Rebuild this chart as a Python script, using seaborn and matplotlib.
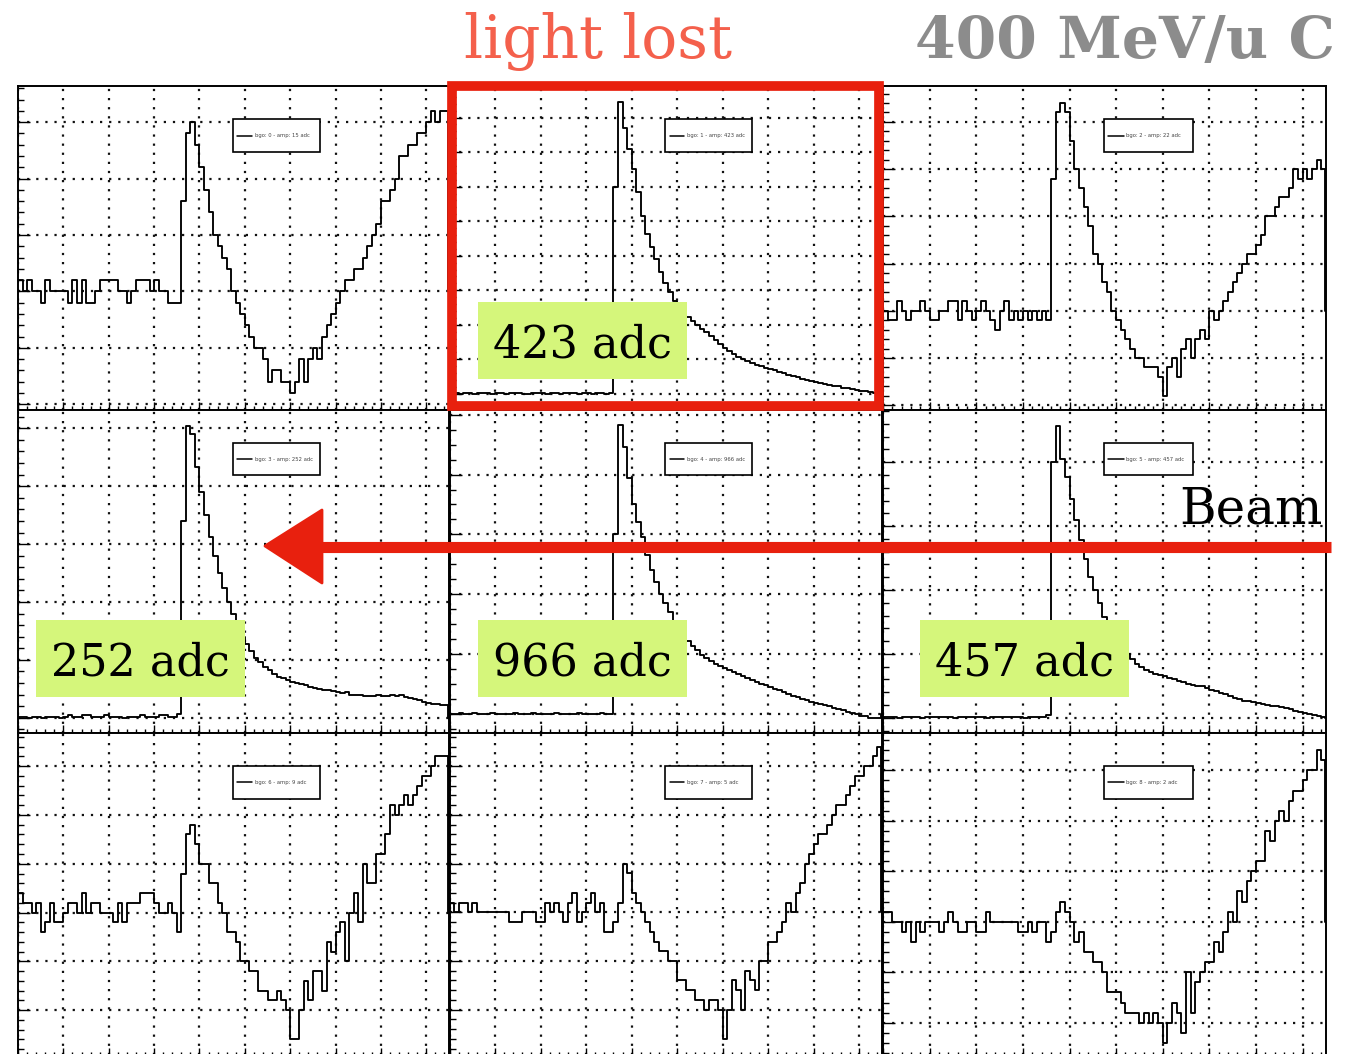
import numpy as np
import pandas as pd
import matplotlib
matplotlib.use("Agg")
import matplotlib.pyplot as plt
import seaborn as sns
from matplotlib.patches import Rectangle, Polygon
from matplotlib.lines import Line2D
from matplotlib.ticker import MultipleLocator

# ---------------------------------------------------------------------------
# Digitised BGO waveforms (ADC counts, pedestal subtracted), one value per sample
# ---------------------------------------------------------------------------
N_SAMPLES = 95
BGO_ID = [0, 1, 2, 3, 4, 5, 6, 7, 8]
AMP_ADC = [15, 423, 22, 252, 966, 457, 9, 5, 2]

WAVE_0 = [1, 0, 1, 0, 0, -1, 1, 0, 0, 0, 0, -1, 1, -1, 1, -1, -1, 0, 1, 1,
          1, 1, 0, 0, -1, 0, 1, 1, 1, 0, 1, 0, 0, -1, -1, -1,
          8, 14, 15, 13, 11, 9, 7, 5, 4, 3, 2, 0, -1, -2, -3, -4, -5, -5, -6, -8,
          -7, -7, -8, -8, -9, -8, -6, -8, -6, -5, -6, -4, -3, -2, -1, 0, 1, 1, 2, 2,
          3, 4, 5, 6, 8, 8, 9, 10, 12, 12, 13, 13, 14, 14, 15, 16, 15, 16, 16]

WAVE_1 = [1, 1, 0, 1, 1, 0, 1, 1, 1, 0, 1, 1, 0, 1, 1, 1, 0, 0, 1, 1,
          1, 0, 1, 1, 0, 1, 1, 1, 0, 1, 1, 0, 1, 1, 0, 1,
          300, 423, 385, 355, 325, 292, 258, 232, 212, 195, 177, 160, 148, 135, 127,
          120, 112, 106, 100, 94, 90, 84, 78, 72, 67, 62, 58, 54, 51, 48,
          45, 42, 40, 38, 36, 34, 32, 30, 28, 26, 24, 22, 20, 19, 17,
          16, 14, 13, 12, 11, 9, 8, 7, 6, 5, 4, 3, 2, 1]

WAVE_2 = [0, -1, -1, 1, 0, -1, 0, 0, 1, 0, -1, -1, 0, 0, 1, 1, -1, 1, 0, -1,
          0, 1, 0, -1, -2, 0, 1, -1, 0, -1, 0, -1, 0, -1, 0, -1,
          14, 21, 22, 21, 18, 15, 13, 11, 9, 6, 5, 3, 2, 0, -1, -2, -3, -4, -5, -5,
          -6, -6, -6, -7, -9, -6, -5, -7, -4, -3, -5, -3, -2, -3, 0, -1, 0, 1, 2, 3,
          4, 5, 6, 6, 7, 8, 10, 10, 11, 12, 12, 13, 15, 14, 15, 14, 15, 16, 15]

WAVE_3 = [1, 1, 0, 1, 1, 0, 1, 1, 1, 0, 1, 2, 1, 1, 2, 2, 1, 1, 1, 2,
          1, 1, 1, 0, 1, 1, 1, 2, 1, 1, 1, 2, 2, 1, 1, 3,
          170, 252, 245, 217, 195, 175, 156, 140, 125, 112, 100, 90, 78, 70, 64,
          58, 52, 48, 44, 41, 38, 35, 34, 33, 31, 30, 29, 28, 27, 26,
          25, 24, 24, 23, 22, 21, 22, 20, 20, 20, 19, 19, 19, 20, 19,
          19, 20, 19, 20, 18, 17, 16, 15, 14, 13, 12, 12, 11, 11]

WAVE_4 = [0, 0, 1, 0, 0, 1, 0, 0, 0, 1, 0, 0, 0, 0, 1, 0, 0, 0, 1, 0,
          0, 0, 0, 1, 0, 0, 0, 0, 1, 0, 0, 0, 0, 1, 0, 0,
          600, 966, 893, 790, 700, 640, 590, 530, 480, 440, 400, 370, 340, 310, 285,
          262, 245, 228, 212, 198, 186, 176, 168, 160, 153, 146, 139, 132, 126, 120,
          113, 107, 101, 95, 89, 83, 78, 72, 66, 60, 55, 50, 45,
          41, 36, 33, 28, 25, 20, 16, 11, 7, 3, -2, -6, -9, -13, -15, -15]

WAVE_5 = [1, 1, 1, 0, 1, 1, 1, 1, 0, 1, 1, 1, 1, 1, 1, 0, 1, 1, 1, 1,
          1, 1, 0, 1, 1, 1, 1, 1, 1, 1, 0, 1, 1, 1, 1, 5,
          400, 457, 405, 377, 343, 309, 278, 249, 220, 200, 179, 158, 142, 132, 116,
          108, 100, 92, 84, 79, 75, 71, 69, 67, 65, 63, 61, 58, 56, 53,
          52, 50, 49, 47, 44, 42, 39, 37, 34, 31, 29, 27, 26, 24, 23,
          22, 20, 19, 18, 17, 15, 13, 11, 9, 8, 6, 4, 3, 1]

WAVE_6 = [2, 1, 1, 0, 1, -2, -1, 1, -1, -1, 0, 1, 1, 0, 2, 0, 1, 1, 0, 0,
          0, -1, 1, -1, 1, 1, 1, 2, 2, 2, 1, 0, 0, 1, 0, -2,
          4, 8, 9, 7, 5, 5, 3, 3, 1, 0, -2, -2, -3, -5, -5, -6, -6, -8, -8, -9,
          -9, -8, -9, -10, -13, -13, -10, -7, -9, -6, -6, -8, -3, -4, -2, -1, -5, 0, 2, -1,
          5, 3, 3, 6, 6, 8, 11, 10, 11, 12, 11, 12, 13, 14, 14, 15, 16, 16, 16]

WAVE_7 = [1, 0, 1, 1, 0, 1, 0, 0, 0, 0, 0, 0, 0, -1, -1, -1, 0, 0, 0, -1,
          -1, 1, 0, 1, 0, -1, 1, 2, -1, 0, 1, 2, 0, 1, -2, -2,
          -1, 1, 5, 4, 2, 1, 0, -1, -2, -3, -4, -4, -5, -5, -7, -7, -8, -8, -9, -9,
          -10, -9, -9, -10, -13, -10, -7, -8, -10, -6, -7, -8, -5, -5, -3, -3, -2, -1, 1, 0,
          2, 3, 5, 6, 7, 8, 8, 9, 10, 11, 11, 12, 13, 14, 14, 15, 15, 16, 17]

WAVE_8 = [1, 1, 0, 0, -1, 0, -2, 0, -1, 0, 0, 0, -1, 0, 1, 0, -1, -1, 0, 0,
          -1, -1, 1, 0, 0, 0, 0, 0, 0, -1, -1, 0, -1, 0, 0, -2,
          -1, 1, 2, 1, 0, -2, -1, -3, -3, -4, -4, -5, -7, -7, -7, -8, -9, -9, -9, -10,
          -9, -10, -9, -10, -12, -10, -8, -9, -11, -5, -9, -6, -5, -4, -4, -2, -3, -1, 1, 0,
          3, 2, 4, 5, 6, 6, 9, 8, 10, 11, 10, 12, 13, 13, 14, 15, 15, 17, 16]

WAVES = [WAVE_0, WAVE_1, WAVE_2, WAVE_3, WAVE_4, WAVE_5, WAVE_6, WAVE_7, WAVE_8]

# channels whose amplitude is highlighted in a tag box
TAGGED = [1, 3, 4, 5]

# ---------------------------------------------------------------------------
# Axis ranges of each pad (ADC) and grid spacing
# ---------------------------------------------------------------------------
Y_RANGE = [(-10.5, 18.2), (-23.2, 445.6), (-10.5, 23.8),
           (-12.7, 265.8), (-62.6, 1016.0), (-23.0, 481.7),
           (-14.7, 18.4), (-14.75, 18.4), (-13.3, 18.7)]
Y_STEP = [5, 50, 5, 50, 200, 100, 5, 5, 5]
Y_SUB = [5, 5, 5, 5, 4, 5, 5, 5, 5]

sns.set_theme(style="white")
plt.rcParams["font.family"] = ["DejaVu Sans"]

W, H = 1356, 1054
fig = plt.figure(figsize=(W / 100, H / 100), dpi=100)
fig.patch.set_facecolor("white")

COL_PX = [(18, 449), (449.5, 882), (883, 1326)]
ROW_PX = [(86, 410), (410, 732.5), (733, 1056)]

for k in range(9):
    r, c = divmod(k, 3)
    x0, x1 = COL_PX[c]
    y0, y1 = ROW_PX[r]
    ax = fig.add_axes([x0 / W, 1 - y1 / H, (x1 - x0) / W, (y1 - y0) / H])
    ax.set_facecolor("white")

    xs = np.r_[np.arange(N_SAMPLES), N_SAMPLES - 0.25, N_SAMPLES]
    ys = np.r_[WAVES[k], 0, 0]
    df = pd.DataFrame({"sample": xs, "adc": ys})
    sns.lineplot(data=df, x="sample", y="adc", ax=ax, color="black",
                 linewidth=1.35, drawstyle="steps-post", estimator=None,
                 sort=False, zorder=3)

    # ROOT-style legend box
    ax.add_patch(Rectangle((0.499, 0.797), 0.201, 0.101, transform=ax.transAxes,
                           facecolor="white", edgecolor="black", lw=1.2, zorder=5))
    ax.add_line(Line2D([0.509, 0.543], [0.847, 0.847], transform=ax.transAxes,
                       color="black", lw=1.1, zorder=6))
    ax.text(0.549, 0.847, f"bgo: {BGO_ID[k]} - amp: {AMP_ADC[k]} adc",
            transform=ax.transAxes, fontsize=3.8, color="#444444",
            ha="left", va="center", zorder=6)

    ax.set_xlim(0, N_SAMPLES)
    ax.set_ylim(*Y_RANGE[k])
    ax.set_xlabel("")
    ax.set_ylabel("")
    ax.xaxis.set_major_locator(MultipleLocator(10))
    ax.xaxis.set_minor_locator(MultipleLocator(2))
    ax.yaxis.set_major_locator(MultipleLocator(Y_STEP[k]))
    ax.yaxis.set_minor_locator(MultipleLocator(Y_STEP[k] / Y_SUB[k]))
    ax.grid(True, which="major", color="#111111", linestyle=(0, (1, 3.1)), linewidth=1.6)
    ax.set_axisbelow(True)
    ax.tick_params(axis="x", which="major", direction="in", length=5.8, width=1.0,
                   color="black", bottom=True, top=False, labelbottom=False)
    ax.tick_params(axis="x", which="minor", direction="in", length=2.9, width=1.0,
                   color="black", bottom=True, top=False)
    ax.tick_params(axis="y", which="major", direction="in", length=8.6, width=1.0,
                   color="black", left=True, right=False, labelleft=False)
    ax.tick_params(axis="y", which="minor", direction="in", length=4.3, width=1.0,
                   color="black", left=True, right=False)
    for sp in ax.spines.values():
        sp.set_visible(True)
        sp.set_color("black")
        sp.set_linewidth(1.4)

# ---------------------------------------------------------------------------
# Annotation layer in pixel coordinates
# ---------------------------------------------------------------------------
ov = fig.add_axes([0, 0, 1, 1], zorder=10)
ov.set_xlim(0, W)
ov.set_ylim(H, 0)
ov.axis("off")
ov.patch.set_alpha(0)

RED = "#E8200E"
GREEN = "#D5F67B"
SERIF = ["DejaVu Serif"]

ov.text(598, 58, "light lost", ha="center", va="baseline", fontsize=43,
        color="#F4604C", family=SERIF)
ov.text(1125, 58, "400 MeV/u C", ha="center", va="baseline", fontsize=42,
        color="#8C8C8C", family=SERIF, fontweight="bold")
ov.text(1251, 524, "Beam", ha="center", va="baseline", fontsize=36,
        color="black", family=SERIF)

# amplitude tags
TAG_BOX = {1: (478, 302), 3: (36, 620), 4: (478, 620), 5: (920, 620)}
for k in TAGGED:
    bx, by = TAG_BOX[k]
    ov.add_patch(Rectangle((bx, by), 209, 77, facecolor=GREEN, edgecolor="none", zorder=2))
    ov.text(bx + 104.5, by + 55, f"{AMP_ADC[k]} adc", ha="center", va="baseline",
            fontsize=32, color="black", family=SERIF, zorder=3)

# highlight frame around the dimmed channel and the beam direction arrow
frame = Rectangle((452, 86), 427, 320, fill=False, edgecolor=RED, lw=7,
                  joinstyle="miter", zorder=4)
ov.add_patch(frame)

shaft = Line2D([1331, 305], [547, 547], color=RED, lw=8, solid_capstyle="butt", zorder=4)
ov.add_line(shaft)
head = Polygon([(265, 546), (322, 510), (322, 583)], closed=True, facecolor=RED,
               edgecolor=RED, lw=2, joinstyle="round", zorder=4)
ov.add_patch(head)

fig.savefig("out.png", dpi=100, facecolor="white")
